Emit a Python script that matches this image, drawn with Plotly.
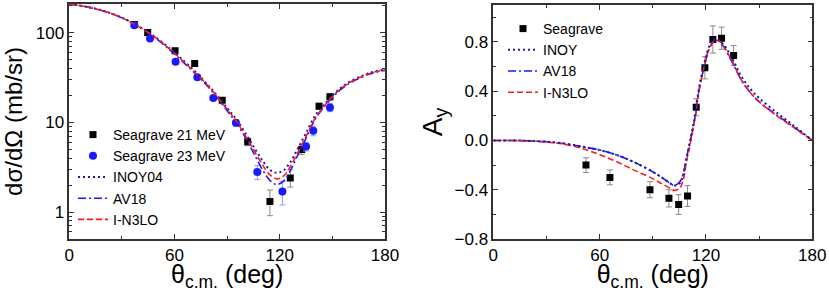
import plotly.graph_objects as go

# ---------------- Left panel: cross section ----------------
theta_21 = [37.1, 44.7, 60.3, 71.5, 87.2, 101.7, 114.4, 126.0, 132.5, 142.4, 148.6]
xs_21 = [124, 101, 63, 45.5, 17.7, 6.1, 1.31, 2.4, 5.0, 15.2, 19.3]
xs_21_err_up = [4, 3, 2.5, 2, 0.8, 0.6, 0.45, 0.55, 0.6, 1.2, 1.5]
xs_21_err_dn = [4, 3, 2.5, 2, 0.8, 0.6, 0.4, 0.5, 0.6, 1.2, 1.5]

theta_23 = [37.1, 46.0, 60.6, 73.0, 82.1, 95.0, 107.2, 121.5, 135.0, 139.1, 148.6]
xs_23 = [122, 86.5, 47.5, 32, 18.8, 9.9, 2.8, 1.7, 5.4, 8.1, 14.7]
xs_23_err_up = [4, 3, 2.5, 1.5, 1.0, 0.8, 0.5, 0.5, 0.6, 1.0, 1.5]
xs_23_err_dn = [4, 3, 2.5, 1.5, 1.0, 0.8, 0.5, 0.5, 0.6, 1.0, 1.5]

theta_curve = [0, 10, 20, 30, 40, 50, 60, 70, 80, 90, 95, 100, 105, 110, 114, 118,
               122, 126, 130, 135, 140, 145, 150, 155, 160, 165, 170, 175, 180]
xs_inoy = [210, 196, 175, 148, 117, 87, 60, 40, 25, 14.5, 11, 7.8, 5.4, 3.8, 3.0, 2.75,
           2.9, 3.6, 5.0, 7.6, 11.8, 15.5, 20, 24.5, 28.5, 32, 35, 37.5, 39]
xs_in3lo = [209, 195, 174, 147, 116, 86, 59, 39, 24.5, 14, 10.5, 7.3, 5.0, 3.4, 2.65, 2.35,
            2.5, 3.2, 4.5, 7.0, 11, 15, 19.5, 24, 28, 31.5, 34.5, 37, 38.5]
xs_av18 = [209, 195, 174, 147, 116, 85, 58, 38, 24, 13.5, 10, 7.0, 4.6, 3.0, 2.3, 2.03,
           2.2, 2.9, 4.2, 6.7, 10.7, 14.7, 19, 23.5, 27.5, 31, 34, 36.5, 38]

# ---------------- Right panel: analyzing power ----------------
theta_ay = [52.3, 65.8, 88.4, 99.1, 104.6, 109.6, 114.5, 119.4, 123.9, 128.8, 135.6]
ay_data = [-0.20, -0.30, -0.40, -0.47, -0.52, -0.45, 0.27, 0.59, 0.82, 0.83, 0.69]
ay_err = [0.06, 0.06, 0.065, 0.07, 0.08, 0.085, 0.07, 0.09, 0.11, 0.09, 0.08]

theta_ay_curve = [0, 10, 20, 30, 40, 50, 60, 70, 80, 90, 95, 100, 102, 105, 107, 109, 111.5,
                  114, 116, 119, 122, 125, 127, 130, 135, 140, 145, 150, 160, 170, 180]
ay_inoy = [0, 0, -0.003, -0.01, -0.025, -0.05, -0.078, -0.12, -0.18, -0.255, -0.3, -0.35, -0.365,
           -0.35, -0.29, -0.15, 0.03, 0.22, 0.42, 0.62, 0.77, 0.83, 0.82, 0.78, 0.66, 0.52,
           0.42, 0.345, 0.225, 0.115, 0.0]
ay_av18 = [0, 0, -0.003, -0.01, -0.025, -0.05, -0.078, -0.12, -0.18, -0.255, -0.3, -0.35, -0.365,
           -0.34, -0.28, -0.14, 0.02, 0.2, 0.4, 0.6, 0.75, 0.815, 0.81, 0.76, 0.63, 0.49,
           0.39, 0.315, 0.205, 0.105, 0.0]
ay_in3lo = [0, 0, -0.004, -0.013, -0.03, -0.065, -0.115, -0.175, -0.245, -0.31, -0.35, -0.39, -0.405,
            -0.39, -0.33, -0.17, 0.0, 0.2, 0.4, 0.6, 0.75, 0.81, 0.81, 0.765, 0.635, 0.49,
            0.39, 0.315, 0.2, 0.1, 0.0]

FONT = "Liberation Sans, Arial, sans-serif"
NAVY = "#1c1c9c"
BLUE = "#1a1aff"
RED = "#ff1a1a"

fig = go.Figure()

# left panel traces
fig.add_trace(go.Scatter(x=theta_21, y=xs_21, mode="markers", name="Seagrave 21 MeV",
                         marker=dict(symbol="square", size=7, color="black"),
                         error_y=dict(type="data", symmetric=False, array=xs_21_err_up,
                                      arrayminus=xs_21_err_dn, color="#8a8a8a", thickness=1, width=3),
                         xaxis="x", yaxis="y", legend="legend"))
fig.add_trace(go.Scatter(x=theta_23, y=xs_23, mode="markers", name="Seagrave 23 MeV",
                         marker=dict(symbol="circle", size=8, color="#1a1aff"),
                         error_y=dict(type="data", symmetric=False, array=xs_23_err_up,
                                      arrayminus=xs_23_err_dn, color="#8c9cff", thickness=1, width=3),
                         xaxis="x", yaxis="y", legend="legend"))
fig.add_trace(go.Scatter(x=theta_curve, y=xs_inoy, mode="lines", name="INOY04",
                         line=dict(color=NAVY, width=2, dash="2px,3px", shape="spline"),
                         xaxis="x", yaxis="y", legend="legend"))
fig.add_trace(go.Scatter(x=theta_curve, y=xs_av18, mode="lines", name="AV18",
                         line=dict(color=BLUE, width=1.6, dash="8px,3px,2px,3px", shape="spline"),
                         xaxis="x", yaxis="y", legend="legend"))
fig.add_trace(go.Scatter(x=theta_curve, y=xs_in3lo, mode="lines", name="I-N3LO",
                         line=dict(color=RED, width=1.6, dash="6px,3px", shape="spline"),
                         xaxis="x", yaxis="y", legend="legend"))

# right panel traces
fig.add_trace(go.Scatter(x=theta_ay, y=ay_data, mode="markers", name="Seagrave",
                         marker=dict(symbol="square", size=7, color="black"),
                         error_y=dict(type="data", array=ay_err, color="#8a8a8a", thickness=1, width=3),
                         xaxis="x2", yaxis="y2", legend="legend2", legendrank=1))
fig.add_trace(go.Scatter(x=theta_ay_curve, y=ay_av18, mode="lines", name="AV18",
                         line=dict(color=BLUE, width=1.6, dash="8px,3px,2px,3px", shape="spline"),
                         xaxis="x2", yaxis="y2", legend="legend2", legendrank=3))
fig.add_trace(go.Scatter(x=theta_ay_curve, y=ay_in3lo, mode="lines", name="I-N3LO",
                         line=dict(color=RED, width=1.6, dash="6px,3px", shape="spline"),
                         xaxis="x2", yaxis="y2", legend="legend2", legendrank=4))
fig.add_trace(go.Scatter(x=theta_ay_curve, y=ay_inoy, mode="lines", name="INOY",
                         line=dict(color=NAVY, width=2, dash="2px,3px", shape="spline"),
                         xaxis="x2", yaxis="y2", legend="legend2", legendrank=2))

W, H = 829, 292


def px_x(p):
    return min(1.0, max(0.0, p / W))


def px_y(p):
    return min(1.0, max(0.0, 1 - p / H))


axis_common = dict(showline=True, linecolor="#333333", linewidth=1.5, mirror="allticks",
                   ticks="inside", ticklen=5, tickwidth=1, tickcolor="#333333",
                   showgrid=False, zeroline=False, automargin=False,
                   tickfont=dict(family=FONT, size=17, color="black"))

xtitle = dict(text="θ<sub>c.m.</sub> (deg)", font=dict(family=FONT, size=25, color="black"), standoff=2)

fig.update_layout(
    width=W, height=H,
    margin=dict(l=0, r=0, t=0, b=0),
    paper_bgcolor="white", plot_bgcolor="white",
    showlegend=True,
    xaxis=dict(domain=[px_x(69.3), px_x(385)], range=[0, 180], tickvals=[0, 60, 120, 180],
               minor=dict(tickvals=[30, 90, 150], ticks="inside", ticklen=3, tickcolor="#333333"),
               title=xtitle, anchor="y", **axis_common),
    yaxis=dict(domain=[px_y(239), px_y(4)], type="log", range=[-0.30103, 2.3222],
               tickvals=[1, 10, 100], ticktext=["1", "10", "100"],
               minor=dict(ticks="inside", ticklen=3, dtick="D1", tickcolor="#333333"),
               title=dict(text="dσ/dΩ (mb/sr)", font=dict(family=FONT, size=24, color="black"), standoff=6),
               anchor="x", **axis_common),
    xaxis2=dict(domain=[px_x(493.3), px_x(812.3)], range=[0, 180], tickvals=[0, 60, 120, 180],
                minor=dict(tickvals=[30, 90, 150], ticks="inside", ticklen=3, tickcolor="#333333"),
                title=xtitle, anchor="y2", **axis_common),
    yaxis2=dict(domain=[px_y(239), px_y(5)], range=[-0.8, 1.1],
                tickvals=[-0.8, -0.4, 0.0, 0.4, 0.8], tickformat=".1f",
                minor=dict(tickvals=[-0.6, -0.2, 0.2, 0.6, 1.0], ticks="inside", ticklen=3, tickcolor="#333333"),
                title=dict(text="A<sub>y</sub>", font=dict(family=FONT, size=28, color="black"), standoff=4),
                anchor="x2", **axis_common),
    legend=dict(x=px_x(73), y=px_y(119), xanchor="left", yanchor="top",
                bgcolor="rgba(0,0,0,0)", borderwidth=0, tracegroupgap=0,
                font=dict(family=FONT, size=14, color="black")),
    legend2=dict(x=px_x(503), y=px_y(13), xanchor="left", yanchor="top",
                 bgcolor="rgba(0,0,0,0)", borderwidth=0, tracegroupgap=0,
                 font=dict(family=FONT, size=14, color="black")),
)

# remove the browser's default 8px body margin so the figure sits at the page origin
fig.write_html("out.html", config={"displayModeBar": False},
               post_script="document.body.style.margin='0';document.body.style.overflow='hidden';")
